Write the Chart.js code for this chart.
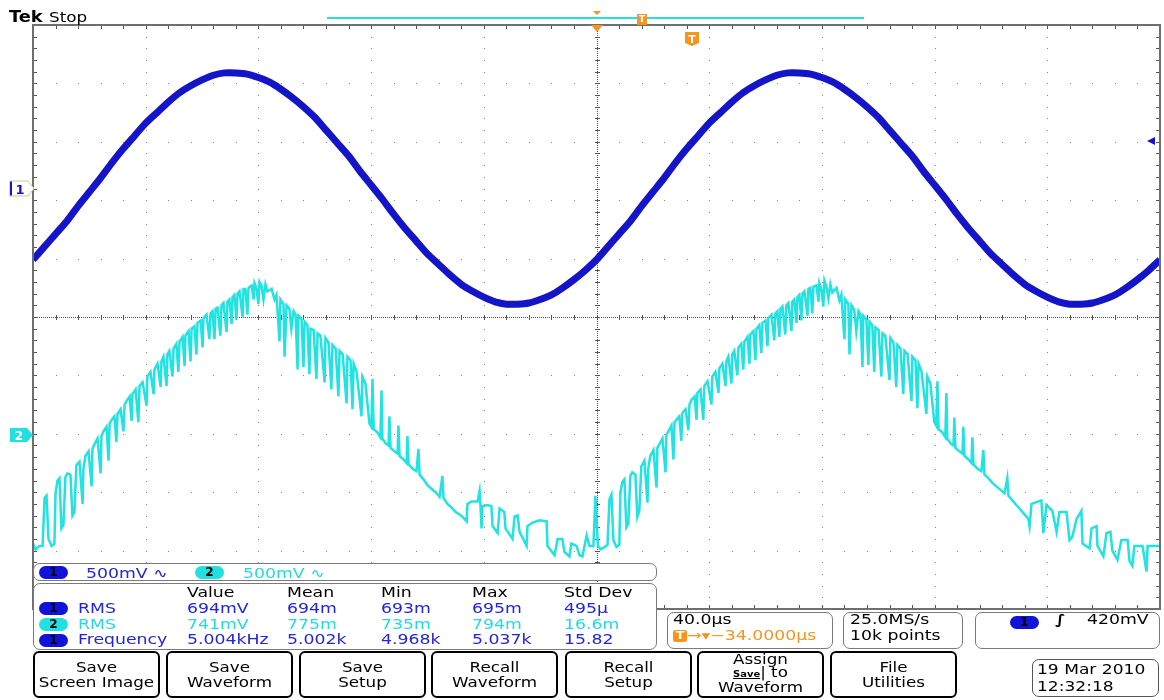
<!DOCTYPE html>
<html><head><meta charset="utf-8">
<script src="https://cdn.jsdelivr.net/npm/chart.js@4.4.0/dist/chart.umd.min.js"></script>
<style>
html,body{margin:0;padding:0;background:#fff;}
#wrap{position:relative;width:1164px;height:700px;overflow:hidden;font-family:'DejaVu Sans',sans-serif;}
#c{position:absolute;left:0;top:0;}
.t{position:absolute;white-space:nowrap;line-height:1;font-size:13.5px;transform-origin:0 0;transform:scaleX(1.28);color:#000;}
.box{position:absolute;background:#fff;border:1.5px solid #7a7a7a;border-radius:7px;box-sizing:border-box;}
.ov{position:absolute;width:29px;height:13px;border-radius:7px;text-align:center;font-weight:bold;font-size:12px;line-height:13px;color:#000;}
.b1{background:#1212d8;} .b2{background:#22e0e0;}
.blue{color:#2323e0;} .cyan{color:#22dcdc;} .orange{color:#f7941d;}
.btn{position:absolute;top:651px;width:127px;height:47px;border:2px solid #000;border-radius:6px;box-sizing:border-box;background:#fff;text-align:center;padding-top:7px;}
.btn span{display:block;font-size:13.5px;line-height:15px;transform:scaleX(1.24);}
.btn.three{padding-top:0;}
.btn.three span{line-height:13px;}
</style></head><body>
<div id="wrap">
<canvas id="c" width="1164" height="700"></canvas>

<div class="t" style="left:9px;top:9px;font-size:16.5px;font-weight:bold;transform:scaleX(1.08)">Tek</div>
<div class="t" style="left:49px;top:10px;font-size:14px;transform:scaleX(1.2)">Stop</div>
<div style="position:absolute;left:327px;top:17px;width:537px;height:2px;background:#22e2e2"></div>
<div style="position:absolute;left:593px;top:11px;width:0;height:0;border-left:4px solid transparent;border-right:4px solid transparent;border-top:4px solid #f7941d"></div>
<div style="position:absolute;left:637px;top:14px;width:10px;height:11px;background:#f7941d;color:#fff;font:bold 9px 'DejaVu Sans';line-height:11px;text-align:center">T</div>
<div style="position:absolute;left:591px;top:25px;width:0;height:0;border-left:6px solid transparent;border-right:6px solid transparent;border-top:7px solid #f7941d"></div>
<svg style="position:absolute;left:684px;top:31px" width="16" height="16"><polygon points="1,1 15,1 15,12 8,15 1,12" fill="#f7941d"/><text x="8" y="12" font-size="11" font-family="DejaVu Sans" font-weight="bold" fill="#fff" text-anchor="middle">T</text></svg>

<svg style="position:absolute;left:8px;top:180px" width="27" height="17"><polygon points="2,1 20,1 26,8.5 20,16 2,16" fill="#fff" stroke="#c8c890"/><line x1="3" y1="1.5" x2="3" y2="15.5" stroke="#1414c8" stroke-width="2"/><text x="12" y="13.5" font-size="13" font-family="DejaVu Sans" font-weight="bold" fill="#1414c8" text-anchor="middle">1</text></svg>
<svg style="position:absolute;left:9px;top:427px" width="26" height="16"><polygon points="1,1 18,1 24,8 18,15 1,15" fill="#22e0e0"/><text x="10" y="12.5" font-size="12" font-family="DejaVu Sans" font-weight="bold" fill="#fff" text-anchor="middle">2</text></svg>
<div style="position:absolute;left:1147px;top:137px;width:0;height:0;border-top:4px solid transparent;border-bottom:4px solid transparent;border-right:8px solid #1414c8"></div>

<div class="box" style="left:33px;top:563px;width:624px;height:18px"></div>
<div class="ov b1" style="left:39px;top:566px">1</div>
<div class="t blue" style="left:86px;top:566.5px">500mV ∿</div>
<div class="ov b2" style="left:195px;top:566px">2</div>
<div class="t cyan" style="left:243px;top:566.5px">500mV ∿</div>

<div class="box" style="left:33px;top:583px;width:624px;height:67px"></div>
<div class="t" style="left:187px;top:585.5px">Value</div>
<div class="t" style="left:287px;top:585.5px">Mean</div>
<div class="t" style="left:381px;top:585.5px">Min</div>
<div class="t" style="left:472px;top:585.5px">Max</div>
<div class="t" style="left:564px;top:585.5px">Std Dev</div>

<div class="ov b1" style="left:39px;top:602px">1</div>
<div class="t blue" style="left:78px;top:601.5px">RMS</div>
<div class="t blue" style="left:187px;top:601.5px">694mV</div>
<div class="t blue" style="left:287px;top:601.5px">694m</div>
<div class="t blue" style="left:381px;top:601.5px">693m</div>
<div class="t blue" style="left:472px;top:601.5px">695m</div>
<div class="t blue" style="left:564px;top:601.5px">495µ</div>

<div class="ov b2" style="left:39px;top:618px">2</div>
<div class="t cyan" style="left:78px;top:617.5px">RMS</div>
<div class="t cyan" style="left:187px;top:617.5px">741mV</div>
<div class="t cyan" style="left:287px;top:617.5px">775m</div>
<div class="t cyan" style="left:381px;top:617.5px">735m</div>
<div class="t cyan" style="left:472px;top:617.5px">794m</div>
<div class="t cyan" style="left:564px;top:617.5px">16.6m</div>

<div class="ov b1" style="left:39px;top:634px">1</div>
<div class="t blue" style="left:78px;top:632.5px">Frequency</div>
<div class="t blue" style="left:187px;top:632.5px">5.004kHz</div>
<div class="t blue" style="left:287px;top:632.5px">5.002k</div>
<div class="t blue" style="left:381px;top:632.5px">4.968k</div>
<div class="t blue" style="left:472px;top:632.5px">5.037k</div>
<div class="t blue" style="left:564px;top:632.5px">15.82</div>

<div class="box" style="left:667px;top:612px;width:166px;height:37px"></div>
<div class="t" style="left:673px;top:613px">40.0µs</div>
<div class="t orange" style="left:673px;top:628.5px"><span style="display:inline-block;background:#f7941d;color:#fff;font-weight:bold;font-size:10px;width:11px;height:12px;line-height:12px;text-align:center;border-radius:2px;vertical-align:1px">T</span>→▾−34.0000µs</div>

<div class="box" style="left:843px;top:612px;width:120px;height:37px"></div>
<div class="t" style="left:850px;top:613px">25.0MS/s</div>
<div class="t" style="left:850px;top:628.5px">10k points</div>

<div class="box" style="left:975px;top:612px;width:185px;height:37px"></div>
<div class="ov b1" style="left:1010px;top:616px">1</div>
<div class="t" style="left:1055px;top:613px;font-weight:bold">∫</div>
<div class="t" style="left:1087px;top:613px">420mV</div>

<div class="btn" style="left:33px"><span>Save</span><span>Screen Image</span></div>
<div class="btn" style="left:166px"><span>Save</span><span>Waveform</span></div>
<div class="btn" style="left:299px"><span>Save</span><span>Setup</span></div>
<div class="btn" style="left:431px"><span>Recall</span><span>Waveform</span></div>
<div class="btn" style="left:565px"><span>Recall</span><span>Setup</span></div>
<div class="btn three" style="left:697px"><span>Assign</span><span><b style="font-size:8px;text-decoration:underline">Save</b>| to</span><span>Waveform</span></div>
<div class="btn" style="left:830px"><span>File</span><span>Utilities</span></div>

<div class="box" style="left:1032px;top:659px;width:127px;height:38px;border-color:#555"></div>
<div class="t" style="left:1037px;top:662px;font-size:14px;transform:scaleX(1.22)">19 Mar 2010</div>
<div class="t" style="left:1037px;top:679px;font-size:14px;transform:scaleX(1.22)">12:32:18</div>
</div>

<script>
// Time axis: 40 us/div, 10 divisions, trigger-centred
const ch1TimesUs = [-200,-196,-192,-188,-184,-180,-176,-172,-168,-164,-160,-156,-152,-148,-144,-140,-136,-132,-128,-124,-120,-116,-112,-108,-104,-100,-96,-92,-88,-84,-80,-76,-72,-68,-64,-60,-56,-52,-48,-44,-40,-36,-32,-28,-24,-20,-16,-12,-8,-4,0,4,8,12,16,20,24,28,32,36,40,44,48,52,56,60,64,68,72,76,80,84,88,92,96,100,104,108,112,116,120,124,128,132,136,140,144,148,152,156,160,164,168,172,176,180,184,188,192,196,200];
// Channel 1 (volts)
const ch1Volts = [-0.61,-0.50,-0.39,-0.28,-0.15,-0.03,0.09,0.22,0.34,0.45,0.56,0.65,0.74,0.82,0.88,0.93,0.97,0.99,0.99,0.98,0.95,0.91,0.85,0.78,0.70,0.61,0.50,0.39,0.28,0.15,0.03,-0.09,-0.22,-0.34,-0.45,-0.56,-0.65,-0.74,-0.82,-0.88,-0.93,-0.97,-0.99,-0.99,-0.98,-0.95,-0.91,-0.85,-0.78,-0.70,-0.61,
-0.50,-0.39,-0.28,-0.15,-0.03,0.09,0.22,0.34,0.45,0.56,0.65,0.74,0.82,0.88,0.93,0.97,0.99,0.99,0.98,0.95,0.91,0.85,0.78,0.70,0.61,0.50,0.39,0.28,0.15,0.03,-0.09,-0.22,-0.34,-0.45,-0.56,-0.65,-0.74,-0.82,-0.88,-0.93,-0.97,-0.99,-0.99,-0.98,-0.95,-0.91,-0.85,-0.78,-0.70,-0.61];

// Channel 2 vertices (time in us, volts)
const ch2TimesUs = [
-200.0,-199.1,-197.7,-196.6,-195.9,-195.2,-194.5,-193.4,-192.4,-192.0,
-191.3,-190.6,-189.9,-189.2,-188.5,-187.8,-186.7,-186.0,-185.3,-184.6,
-183.5,-182.4,-182.1,-181.4,-180.3,-179.2,-178.9,-178.2,-177.1,-176.0,
-175.7,-175.0,-173.9,-173.2,-172.8,-171.8,-171.1,-170.4,-170.0,-168.9,
-167.9,-167.5,-166.8,-165.7,-165.0,-164.7,-163.6,-162.6,-162.2,-161.1,
-159.7,-159.4,-158.3,-157.2,-156.9,-155.8,-154.7,-154.4,-153.7,-152.6,
-152.3,-151.6,-150.5,-150.1,-149.1,-148.4,-148.0,-146.9,-146.2,-145.9,
-144.8,-144.1,-143.7,-142.7,-142.0,-141.6,-140.5,-139.8,-139.5,-138.4,
-137.4,-137.0,-136.3,-135.6,-135.2,-134.5,-133.5,-133.1,-132.4,-131.3,
-131.0,-130.3,-129.5,-129.2,-128.5,-127.8,-127.4,-126.7,-125.6,-125.3,
-124.6,-123.9,-123.5,-122.4,-121.7,-121.4,-120.7,-120.0,-119.6,-118.9,
-118.2,-117.5,-116.8,-115.3,-114.3,-113.6,-112.5,-112.2,-111.1,-110.7,
-110.0,-109.0,-108.3,-107.5,-106.8,-106.1,-105.8,-104.7,-104.0,-103.6,
-102.6,-101.9,-101.5,-100.4,-99.4,-99.0,-98.0,-96.5,-96.2,-95.1,
-94.1,-93.7,-92.6,-91.6,-91.2,-90.1,-88.7,-88.4,-87.3,-86.6,
-86.2,-85.2,-83.4,-83.1,-82.0,-80.6,-79.9,-79.5,-79.1,-77.7,
-76.7,-76.3,-76.0,-74.9,-73.8,-73.5,-73.1,-71.7,-70.6,-70.3,
-69.9,-68.5,-67.4,-67.1,-66.7,-65.3,-63.9,-63.2,-62.8,-61.4,
-60.0,-58.6,-57.1,-55.7,-54.7,-54.3,-52.9,-51.5,-50.0,-48.6,
-47.2,-46.1,-45.8,-44.4,-42.2,-41.5,-41.2,-40.8,-40.5,-38.7,
-37.3,-36.9,-35.1,-34.4,-32.7,-32.3,-29.8,-29.1,-28.0,-27.3,
-24.8,-24.5,-22.7,-20.2,-17.7,-17.4,-14.9,-13.8,-12.1,-11.4,
-9.6,-8.9,-7.1,-6.0,-5.0,-3.5,-2.5,-1.1,-0.4,
0.5,1.4,2.8,3.9,4.6,5.3,6.0,7.1,8.1,8.5,
9.2,9.9,10.6,11.3,12.0,12.7,13.8,14.5,15.2,15.9,
17.0,18.1,18.4,19.1,20.2,21.3,21.6,22.3,23.4,24.5,
24.8,25.5,26.6,27.3,27.7,28.7,29.4,30.1,30.5,31.6,
32.6,33.0,33.7,34.8,35.5,35.8,36.9,37.9,38.3,39.4,
40.8,41.1,42.2,43.3,43.6,44.7,45.8,46.1,46.8,47.9,
48.2,48.9,50.0,50.4,51.4,52.1,52.5,53.6,54.3,54.6,
55.7,56.4,56.8,57.8,58.5,58.9,60.0,60.7,61.0,62.1,
63.1,63.5,64.2,64.9,65.3,66.0,67.0,67.4,68.1,69.2,
69.5,70.2,71.0,71.3,72.0,72.7,73.1,73.8,74.9,75.2,
75.9,76.6,77.0,78.1,78.8,79.1,79.8,80.5,80.9,81.6,
82.3,83.0,83.7,85.2,86.2,86.9,88.0,88.3,89.4,89.8,
90.5,91.5,92.2,93.0,93.7,94.4,94.7,95.8,96.5,96.9,
97.9,98.6,99.0,100.1,101.1,101.5,102.5,104.0,104.3,105.4,
106.4,106.8,107.9,108.9,109.3,110.4,111.8,112.1,113.2,113.9,
114.3,115.3,117.1,117.4,118.5,119.9,120.6,121.0,121.4,122.8,
123.8,124.2,124.5,125.6,126.7,127.0,127.4,128.8,129.9,130.2,
130.6,132.0,133.1,133.4,133.8,135.2,136.6,137.3,137.7,139.1,
140.5,141.9,143.4,144.8,145.8,146.2,147.6,149.0,150.5,151.9,
153.3,
153.7,154.4,157.9,158.6,159.7,161.8,163.3,164.3,166.8,167.9,
168.9,170.4,172.1,172.5,175.0,175.7,177.5,177.8,179.9,181.0,
182.4,183.1,184.9,186.3,188.5,189.2,190.2,190.9,193.8,195.2,
195.6,200.0];
const ch2Volts = [
-0.94,-0.99,-0.96,-0.96,-0.55,-0.53,-0.90,-0.96,-0.94,-0.51,
-0.40,-0.38,-0.81,-0.78,-0.37,-0.34,-0.35,-0.70,-0.67,-0.27,
-0.24,-0.60,-0.30,-0.19,-0.15,-0.45,-0.13,-0.09,-0.04,-0.34,
-0.02,0.02,0.06,-0.23,0.09,0.13,0.15,-0.07,0.17,0.21,
0.02,0.25,0.28,0.32,0.11,0.34,0.38,0.10,0.41,0.44,
0.24,0.49,0.53,0.34,0.55,0.60,0.40,0.62,0.66,0.41,
0.68,0.71,0.49,0.73,0.77,0.53,0.79,0.83,0.58,0.84,
0.88,0.62,0.90,0.92,0.68,0.95,0.97,0.74,0.99,1.02,
0.81,1.03,1.05,0.81,1.07,1.08,0.84,1.10,1.12,0.87,
1.13,1.15,0.94,1.17,1.19,0.98,1.20,1.22,1.00,1.24,
1.24,1.02,1.25,1.27,1.15,1.29,1.25,1.11,1.30,1.27,
1.15,1.28,1.22,1.24,1.15,1.19,0.79,1.15,1.11,0.66,
1.10,1.07,0.90,1.05,1.02,0.55,1.01,0.98,0.57,0.96,
0.93,0.51,0.90,0.89,0.47,0.86,0.84,0.44,0.82,0.78,
0.38,0.76,0.73,0.32,0.71,0.68,0.26,0.66,0.63,0.21,
0.60,0.54,0.15,0.49,0.43,0.09,0.06,0.47,0.04,0.01,
-0.03,0.37,-0.04,-0.08,-0.10,0.15,-0.12,-0.15,-0.17,0.07,
-0.19,-0.22,-0.25,-0.02,-0.26,-0.30,-0.32,-0.13,-0.35,-0.39,
-0.44,-0.47,-0.50,-0.54,-0.36,-0.55,-0.60,-0.63,-0.67,-0.69,
-0.72,-0.75,-0.60,-0.58,-0.58,-0.49,-0.60,-0.81,-0.62,-0.61,
-0.62,-0.79,-0.85,-0.64,-0.67,-0.81,-0.90,-0.71,-0.70,-0.84,
-0.96,-0.79,-0.76,-0.74,-0.75,-0.96,-1.04,-0.90,-0.90,-1.01,
-1.05,-0.94,-0.96,-1.04,-1.05,-0.87,-0.96,-0.96,-0.53,
-0.96,-0.99,-0.97,-0.95,-0.56,-0.52,-0.91,-0.97,-0.95,-0.50,
-0.41,-0.39,-0.80,-0.77,-0.36,-0.33,-0.35,-0.71,-0.66,-0.28,
-0.23,-0.59,-0.29,-0.19,-0.14,-0.46,-0.12,-0.09,-0.04,-0.33,
-0.01,0.02,0.07,-0.22,0.10,0.13,0.15,-0.06,0.18,0.21,
0.03,0.25,0.29,0.32,0.12,0.35,0.38,0.12,0.41,0.45,
0.25,0.49,0.53,0.35,0.56,0.60,0.41,0.62,0.66,0.43,
0.68,0.71,0.50,0.74,0.77,0.55,0.79,0.83,0.60,0.85,
0.88,0.63,0.90,0.93,0.69,0.95,0.97,0.75,0.99,1.02,
0.80,1.03,1.05,0.83,1.07,1.09,0.85,1.10,1.12,0.88,
1.13,1.15,0.95,1.17,1.19,0.97,1.20,1.22,1.01,1.24,
1.25,1.03,1.26,1.27,1.13,1.29,1.24,1.09,1.31,1.26,
1.16,1.28,1.21,1.25,1.14,1.19,0.81,1.15,1.11,0.68,
1.10,1.06,0.88,1.05,1.02,0.57,1.01,0.98,0.59,0.96,
0.93,0.53,0.91,0.89,0.49,0.86,0.84,0.46,0.82,0.78,
0.40,0.76,0.73,0.34,0.71,0.68,0.28,0.66,0.63,0.22,
0.60,0.54,0.17,0.49,0.43,0.10,0.07,0.45,0.04,0.01,
-0.03,0.35,-0.04,-0.08,-0.10,0.14,-0.12,-0.15,-0.17,0.06,
-0.19,-0.22,-0.25,-0.03,-0.26,-0.30,-0.32,-0.14,-0.35,-0.38,
-0.42,-0.45,-0.48,-0.51,-0.38,-0.53,-0.57,-0.61,-0.65,-0.69,
-0.73,
-0.79,-0.60,-0.57,-0.85,-0.61,-0.66,-0.84,-0.67,-0.67,-0.91,
-0.88,-0.73,-0.66,-0.94,-0.98,-0.81,-0.79,-0.96,-1.05,-0.85,
-0.84,-1.00,-1.08,-0.91,-0.91,-1.09,-1.13,-0.96,-0.96,-1.18,
-0.96,-0.96];

const voltsPerDiv = 0.5;
const ch1GroundDiv = 2.2;
const ch2GroundDiv = -2.0;

const scopeGrid = {
  id: 'scopeGrid',
  beforeDatasetsDraw(chart) {
    const {ctx, chartArea: a, scales} = chart;
    const x = scales.x, y = scales.y;
    ctx.save();
    ctx.fillStyle = '#858585';
    for (let i = -5; i <= 5; i++) {
      const px = Math.round(x.getPixelForValue(i * 40));
      for (let j = 0; j <= 50; j++) {
        ctx.fillRect(px, Math.round(y.getPixelForValue(-5 + j * 0.2)), 1, 1);
      }
      const py = Math.round(y.getPixelForValue(i));
      for (let j = 0; j <= 50; j++) {
        ctx.fillRect(Math.round(x.getPixelForValue(-200 + j * 8)), py, 1, 1);
      }
    }
    const cx = Math.round(x.getPixelForValue(0)), cy = Math.round(y.getPixelForValue(0));
    ctx.fillStyle = '#555';
    for (let py = a.top; py < a.bottom; py += 2) ctx.fillRect(cx, py, 1, 1);
    for (let px = a.left; px < a.right; px += 2) ctx.fillRect(px, cy, 1, 1);
    for (let j = 0; j <= 50; j++) {
      const py = Math.round(y.getPixelForValue(-5 + j * 0.2));
      const px = Math.round(x.getPixelForValue(-200 + j * 8));
      ctx.fillRect(cx - 2, py, 5, 1);
      ctx.fillRect(px, cy - 2, 1, 5);
      ctx.fillRect(a.left, py, 4, 1);
      ctx.fillRect(a.right - 4, py, 4, 1);
      ctx.fillRect(px, a.top, 1, 4);
      ctx.fillRect(px, a.bottom - 4, 1, 4);
    }
    ctx.restore();
  },
  afterDatasetsDraw(chart) {
    const {ctx, chartArea: a} = chart;
    ctx.save();
    ctx.strokeStyle = '#6f6f6f';
    ctx.lineWidth = 2;
    ctx.strokeRect(a.left, a.top, a.right - a.left, a.bottom - a.top);
    ctx.restore();
  }
};

new Chart(document.getElementById('c'), {
  type: 'line',
  data: {
    datasets: [
      {
        label: 'CH1',
        data: ch1TimesUs.map((t, i) => ({x: t, y: ch1Volts[i]})),
        yAxisID: 'ch1',
        borderColor: '#1414c8',
        borderWidth: 7,
        pointRadius: 0,
        tension: 0.2
      },
      {
        label: 'CH2',
        data: ch2TimesUs.map((t, i) => ({x: t, y: ch2Volts[i]})),
        yAxisID: 'ch2',
        borderColor: '#22e2e2',
        borderWidth: 2.5,
        pointRadius: 0,
        tension: 0
      }
    ]
  },
  options: {
    responsive: false,
    animation: false,
    devicePixelRatio: 1,
    layout: {padding: {left: 33, top: 25, right: 4, bottom: 91}},
    plugins: {legend: {display: false}, tooltip: {enabled: false}},
    scales: {
      x: {type: 'linear', min: -200, max: 200, display: false},
      y: {type: 'linear', min: -5, max: 5, display: false},
      ch1: {type: 'linear', min: (-5 - ch1GroundDiv) * voltsPerDiv, max: (5 - ch1GroundDiv) * voltsPerDiv, display: false},
      ch2: {type: 'linear', min: (-5 - ch2GroundDiv) * voltsPerDiv, max: (5 - ch2GroundDiv) * voltsPerDiv, display: false}
    }
  },
  plugins: [scopeGrid]
});
</script>
</body></html>
